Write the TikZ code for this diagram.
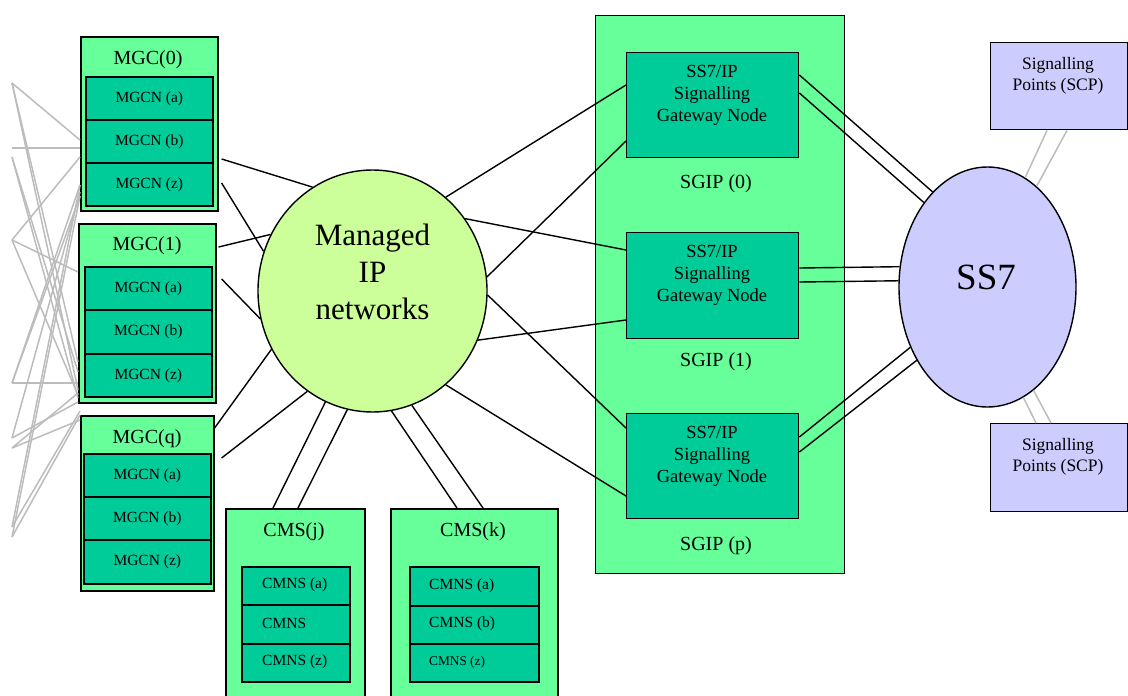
\documentclass[tikz,border=0pt]{standalone}
\usepackage{fontspec}
\setmainfont{Liberation Serif}
\usetikzlibrary{shapes.geometric,calc}

\definecolor{outergreen}{RGB}{102,255,153}
\definecolor{innergreen}{RGB}{0,204,153}
\definecolor{ipgreen}{RGB}{204,255,153}
\definecolor{sslav}{RGB}{204,204,255}
\definecolor{meshgray}{RGB}{188,188,188}

\tikzset{
  container/.style={draw=black, line width=1.6pt, fill=outergreen, inner sep=0pt, anchor=north west},
  cell/.style={draw=black, line width=1.6pt, fill=innergreen, inner sep=0pt, anchor=north west},
  gwbox/.style={draw=black, line width=1.4pt, fill=innergreen, inner sep=0pt, anchor=north west},
  scpbox/.style={draw=black, line width=1.4pt, fill=sslav, inner sep=0pt, anchor=north west},
  link/.style={draw=black, line width=1.4pt},
  mesh/.style={draw=meshgray, line width=1.5pt},
  title/.style={inner sep=0pt, font=\fontsize{20}{24}\selectfont},
  celltext/.style={inner sep=0pt, font=\fontsize{15.5}{18}\selectfont},
  gwtext/.style={inner sep=0pt, align=center, font=\fontsize{18.5}{22}\selectfont},
}

\begin{document}
\begin{tikzpicture}[x=1pt,y=-1pt]
\useasboundingbox (0,0) rectangle (1128,696);

% ---------- media gateway controllers ----------
\node[container, minimum width=137pt, minimum height=174pt] (mgc0) at (80,36) {};
\node[title] (mgc0t) at (148,60) {MGC(0)};
\node[cell, minimum width=127pt, minimum height=43pt] (mgc0a) at (85,76) {};
\node[cell, minimum width=127pt, minimum height=43pt] (mgc0b) at (85,119) {};
\node[cell, minimum width=127pt, minimum height=43pt] (mgc0z) at (85,162) {};
\node[celltext] at (mgc0a.center) {MGCN (a)};
\node[celltext] at (mgc0b.center) {MGCN (b)};
\node[celltext] at (mgc0z.center) {MGCN (z)};

\node[container, minimum width=137pt, minimum height=179pt] (mgc1) at (78,223) {};
\node[title] (mgc1t) at (147,246) {MGC(1)};
\node[cell, minimum width=127pt, minimum height=43pt] (mgc1a) at (84,266) {};
\node[cell, minimum width=127pt, minimum height=44pt] (mgc1b) at (84,309) {};
\node[cell, minimum width=127pt, minimum height=43pt] (mgc1z) at (84,353) {};
\node[celltext] at (mgc1a.center) {MGCN (a)};
\node[celltext] at (mgc1b.center) {MGCN (b)};
\node[celltext] at (mgc1z.center) {MGCN (z)};

\node[container, minimum width=133pt, minimum height=175pt] (mgcq) at (80,415) {};
\node[title] (mgcqt) at (147,439) {MGC(q)};
\node[cell, minimum width=127pt, minimum height=43pt] (mgcqa) at (83,453) {};
\node[cell, minimum width=127pt, minimum height=43pt] (mgcqb) at (83,496) {};
\node[cell, minimum width=127pt, minimum height=44pt] (mgcqz) at (83,539) {};
\node[celltext] at (mgcqa.center) {MGCN (a)};
\node[celltext] at (mgcqb.center) {MGCN (b)};
\node[celltext] at (mgcqz.center) {MGCN (z)};

% ---------- call management servers ----------
\node[container, minimum width=139pt, minimum height=200pt] (cmsj) at (225,508) {};
\node[title] (cmsjt) at (294,532) {CMS(j)};
\node[cell, minimum width=108pt, minimum height=38pt] (cmsja) at (241,566) {};
\node[cell, minimum width=108pt, minimum height=39pt] (cmsjb) at (241,604) {};
\node[cell, minimum width=108pt, minimum height=38pt] (cmsjz) at (241,643) {};
\node[celltext, anchor=west] at (262,585) {CMNS (a)};
\node[celltext, anchor=west] at (262,623.5) {CMNS};
\node[celltext, anchor=west] at (262,662) {CMNS (z)};

\node[container, minimum width=167pt, minimum height=200pt] (cmsk) at (390,508) {};
\node[title] (cmskt) at (473,532) {CMS(k)};
\node[cell, minimum width=129pt, minimum height=39pt] (cmska) at (409,566) {};
\node[cell, minimum width=129pt, minimum height=38pt] (cmskb) at (409,605) {};
\node[cell, minimum width=129pt, minimum height=38pt] (cmskz) at (409,643) {};
\node[celltext, anchor=west] at (429,585.5) {CMNS (a)};
\node[celltext, anchor=west] at (429,624) {CMNS (b)};
\node[celltext, anchor=west, font=\fontsize{13.3}{16}\selectfont] at (429,662) {CMNS (z)};

% ---------- managed IP cloud ----------
\node[ellipse, draw=black, line width=1.4pt, fill=ipgreen, minimum width=229pt, minimum height=242pt, inner sep=0pt] (ipnet) at (372.5,291) {};
\node[inner sep=0pt, align=center, font=\fontsize{31}{37}\selectfont] at (372.5,272) {Managed\\IP\\networks};

% ---------- signalling gateways ----------
\node[container, line width=1.4pt, minimum width=249pt, minimum height=558pt] (sgip) at (595,15) {};
\node[gwbox, minimum width=172pt, minimum height=105pt] (sg0) at (626,52) {};
\node[gwbox, minimum width=172pt, minimum height=106pt] (sg1) at (626,232) {};
\node[gwbox, minimum width=172pt, minimum height=105pt] (sgp) at (626,413) {};
\node[gwtext] at (712,95) {SS7/IP\\Signalling\\Gateway Node};
\node[gwtext] at (712,275.5) {SS7/IP\\Signalling\\Gateway Node};
\node[gwtext] at (712,456) {SS7/IP\\Signalling\\Gateway Node};
\node[title] at (716,184) {SGIP (0)};
\node[title] at (716,362) {SGIP (1)};
\node[title] at (716,546) {SGIP (p)};

% ---------- SS7 network and signalling points ----------
\node[ellipse, draw=black, line width=1.4pt, fill=sslav, minimum width=177pt, minimum height=240pt, inner sep=0pt] (ss7) at (987.5,287) {};
\node[inner sep=0pt, font=\fontsize{37}{44}\selectfont] at (986,277) {SS7};
\node[scpbox, minimum width=137pt, minimum height=87pt] (scp1) at (990,42) {};
\node[scpbox, minimum width=137pt, minimum height=88pt] (scp2) at (990,423) {};
\node[inner sep=0pt, align=center, font=\fontsize{17.5}{21}\selectfont] at (1058,76) {Signalling\\Points (SCP)};
\node[inner sep=0pt, align=center, font=\fontsize{17.5}{21}\selectfont] at (1058,457) {Signalling\\Points (SCP)};

% ---------- links to the IP cloud ----------
\draw[link] ($(mgc0.north east)+(3,123)$) -- (ipnet.120.2);
\draw[link] ($(mgc0.north east)+(3,147)$) -- (ipnet.160.1);
\draw[link] ($(mgc1.north east)+(2,24)$) -- (ipnet.151.8);
\draw[link] ($(mgc1.north east)+(5,56)$) -- (ipnet.194.7);
\draw[link] ($(mgcq.north east)+(0,13)$) -- (ipnet.210.4);
\draw[link] ($(mgcq.north east)+(7,43)$) -- (ipnet.237.7);
\draw[link] ($(cmsj.north west)+(48,0)$) -- (ipnet.247.9);
\draw[link] ($(cmsj.north west)+(73,0)$) -- (ipnet.258.4);
\draw[link] ($(cmsk.north west)+(67,0)$) -- (ipnet.279.2);
\draw[link] ($(cmsk.north west)+(93,0)$) -- (ipnet.289.1);
\draw[link] (ipnet.52.6) -- ($(sg0.north west)+(0,33)$);
\draw[link] (ipnet.7.0) -- ($(sg0.north west)+(0,89)$);
\draw[link] (ipnet.38.5) -- ($(sg1.north west)+(0,18)$);
\draw[link] (ipnet.335.1) -- ($(sg1.north west)+(0,88)$);
\draw[link] (ipnet.358.5) -- ($(sgp.north west)+(0,15)$);
\draw[link] (ipnet.308.7) -- ($(sgp.north west)+(0,83)$);

% ---------- gateways to SS7 ----------
\draw[link] ($(sg0.north east)+(0,23)$) -- (ss7.120.1);
\draw[link] ($(sg0.north east)+(0,41)$) -- (ss7.127.5);
\draw[link] ($(sg1.north east)+(0,36)$) -- (ss7.167.7);
\draw[link] ($(sg1.north east)+(0,50)$) -- (ss7.176.7);
\draw[link] ($(sgp.north east)+(0,24)$) -- (ss7.218.6);
\draw[link] ($(sgp.north east)+(0,39)$) -- (ss7.226.4);

% ---------- SS7 to signalling points ----------
\draw[mesh] (ss7.71.3) -- ($(scp1.south west)+(57,0)$);
\draw[mesh] (ss7.64.1) -- ($(scp1.south west)+(77,0)$);
\draw[mesh] (ss7.288.4) -- ($(scp2.north west)+(46,0)$);
\draw[mesh] (ss7.294.3) -- ($(scp2.north west)+(61,0)$);

% ---------- media gateway mesh ----------
\coordinate (l1) at (12,83);
\coordinate (l2) at (12,148);
\coordinate (l3) at (12,157);
\coordinate (l4) at (12,240);
\coordinate (l5) at (12,383);
\coordinate (l6) at (12,438);
\coordinate (l7) at (12,448);
\coordinate (l8) at (12,527);
\coordinate (l9) at (12,537);
\draw[mesh] (l1) -- ($(mgc0.north west)+(0,104)$);
\draw[mesh] (l1) -- ($(mgc1.north west)+(0,139)$);
\draw[mesh] (l1) -- ($(mgc1.north west)+(0,167)$);
\draw[mesh] (l2) -- ($(mgc0.north west)+(0,112)$);
\draw[mesh] (l3) -- ($(mgc1.north west)+(0,149)$);
\draw[mesh] (l3) -- ($(mgc1.north west)+(0,175)$);
\draw[mesh] (l4) -- ($(mgc0.north west)+(0,121)$);
\draw[mesh] (l4) -- ($(mgc1.north west)+(0,49)$);
\draw[mesh] (l4) -- ($(mgc1.north west)+(0,172)$);
\draw[mesh] (l5) -- ($(mgc1.north west)+(0,160)$);
\draw[mesh] (l5) -- ($(mgc0.north west)+(0,149)$);
\draw[mesh] (l5) -- ($(mgc0.north west)+(0,160)$);
\draw[mesh] (l6) -- ($(mgc0.north west)+(0,156)$);
\draw[mesh] (l6) -- ($(mgc1.north west)+(0,179)$);
\draw[mesh] (l7) -- ($(mgc1.north west)+(0,170)$);
\draw[mesh] (l7) -- ($(mgcq.north west)+(0,5)$);
\draw[mesh] (l8) -- ($(mgc0.north west)+(0,149)$);
\draw[mesh] (l8) -- ($(mgcq.north west)+(0,-4)$);
\draw[mesh] (l9) -- ($(mgc0.north west)+(0,160)$);
\draw[mesh] (l9) -- ($(mgcq.north west)+(0,0)$);
\end{tikzpicture}
\end{document}
